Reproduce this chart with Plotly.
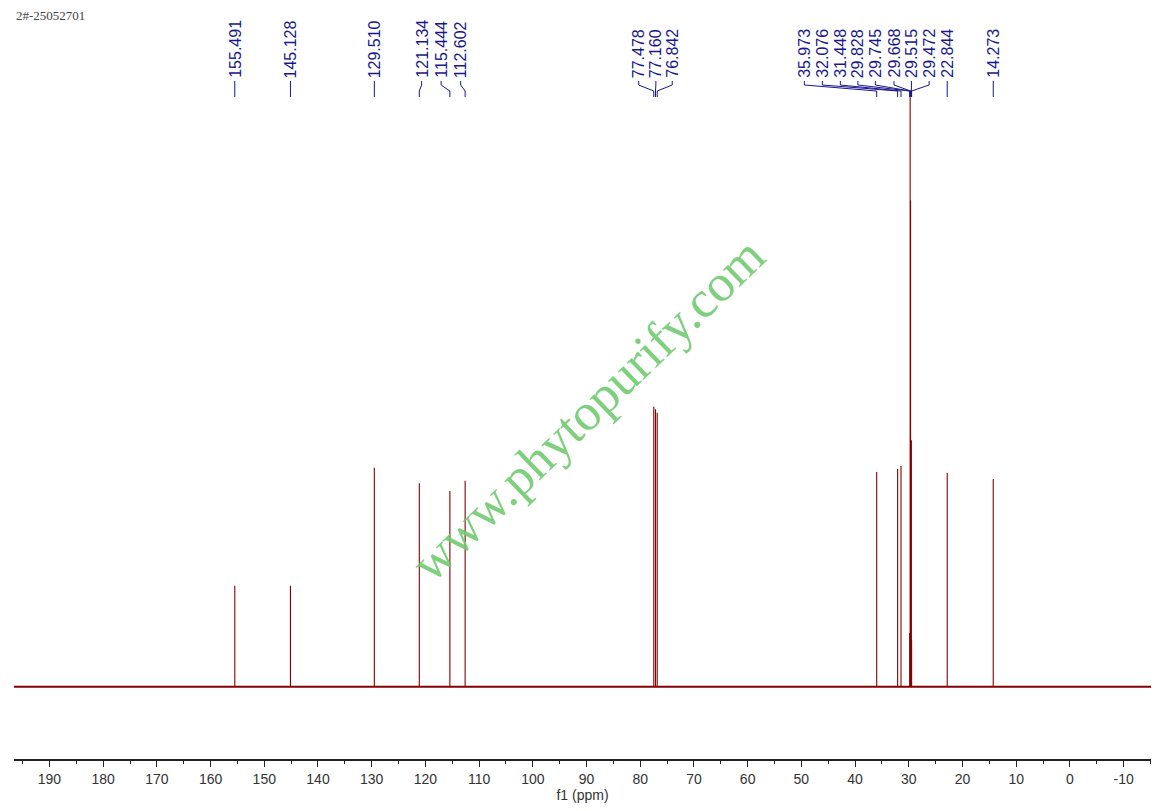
import plotly.graph_objects as go

# ---- data ----
peak_ppm = [155.491, 145.128, 129.510, 121.134, 115.444, 112.602,
            77.478, 77.160, 76.842,
            35.973, 32.076, 31.448, 29.828, 29.745, 29.668, 29.515, 29.472,
            22.844, 14.273]
peak_height = [16.9, 16.9, 36.7, 34.1, 32.8, 34.5,
               46.9, 46.5, 45.9,
               36.0, 36.5, 37.0, 9.0, 120.0, 81.5, 41.3, 7.8,
               35.8, 34.8]
# label placement (ppm) as spread by the NMR software
label_pos_ppm = [155.491, 145.128, 129.510, 120.70, 117.07, 113.44,
                 80.28, 77.09, 74.04,
                 49.44, 46.09, 42.74, 39.48, 36.22, 32.75, 29.51, 26.21,
                 22.844, 14.273]
x_range = [196.6, -15.1]
y_range = [-12.12, 100.0]
major_ticks = list(range(190, -11, -10))
major_tick_text = [str(v) for v in major_ticks]
minor_ticks = list(range(195, -16, -5))
sample_name = "2#-25052701"
watermark = "www.phytopurify.com"

# ---- layout geometry (pixels) ----
W, H = 1159, 811
L_PX, R_PX = 14, 1151
T_PX, B_PX = 90, 759


def py(y_px):
    return (B_PX - y_px) / (B_PX - T_PX)


def px(x_px):
    return (x_px - L_PX) / (R_PX - L_PX)


spec_color = "#850000"
label_color = "#18188c"

fig = go.Figure()

# baseline
fig.add_trace(go.Scatter(x=x_range, y=[0, 0], mode="lines",
                         line=dict(color=spec_color, width=1.9),
                         hoverinfo="skip", showlegend=False))
# peaks
xs, ys = [], []
for p, h in zip(peak_ppm, peak_height):
    xs += [p, p, None]
    ys += [0, h, None]
fig.add_trace(go.Scatter(x=xs, y=ys, mode="lines",
                         line=dict(color=spec_color, width=1.1),
                         hoverinfo="skip", showlegend=False))

annotations = []
shapes = []
for p, lp in zip(peak_ppm, label_pos_ppm):
    annotations.append(dict(x=lp, xref="x", y=py(80), yref="paper",
                            text=f"{p:.3f}", textangle=-90, showarrow=False,
                            xanchor="center", yanchor="bottom",
                            font=dict(family="Liberation Sans, Arial", size=16,
                                      color=label_color)))
    path = (f"M {lp},{py(81)} L {lp},{py(85)} L {p},{py(91)} L {p},{py(97)}")
    shapes.append(dict(type="path", path=path, xref="x", yref="paper",
                       line=dict(color=label_color, width=1)))

annotations.append(dict(x=px(587.5), xref="paper", y=py(409), yref="paper",
                        text=watermark, textangle=-44, showarrow=False,
                        xanchor="center", yanchor="middle",
                        font=dict(family="Liberation Serif, Times New Roman",
                                  size=52, color="rgba(112,202,112,0.9)")))
annotations.append(dict(x=px(14), xref="paper", y=py(16), yref="paper",
                        text=sample_name, showarrow=False,
                        xanchor="left", yanchor="middle",
                        font=dict(family="Liberation Serif", size=13,
                                  color="#444444")))

fig.update_layout(
    width=W, height=H,
    margin=dict(l=L_PX, r=W - R_PX, t=T_PX, b=H - B_PX, autoexpand=False),
    paper_bgcolor="white", plot_bgcolor="white",
    annotations=annotations, shapes=shapes,
    xaxis=dict(range=x_range, tickmode="array", tickvals=major_ticks,
               ticktext=major_tick_text, ticks="outside",
               ticklen=6, tickwidth=1.3, tickcolor="#222222",
               showline=True, linecolor="#222222", linewidth=1.6,
               showgrid=False, zeroline=False, automargin=False,
               tickfont=dict(family="Liberation Sans, Arial", size=14,
                             color="#333333"),
               minor=dict(tickmode="array", tickvals=minor_ticks,
                          ticks="outside", ticklen=3,
                          tickwidth=1.2, tickcolor="#222222", showgrid=False),
               title=dict(text="f1 (ppm)", standoff=2,
                          font=dict(family="Liberation Sans, Arial", size=14,
                                    color="#333333"))),
    yaxis=dict(range=y_range, visible=False, showgrid=False, zeroline=False,
               automargin=False),
)

fig.write_html("out.html",
               config={"displayModeBar": False},
               post_script="document.body.style.margin='0';"
                           "document.body.style.overflow='hidden';")
